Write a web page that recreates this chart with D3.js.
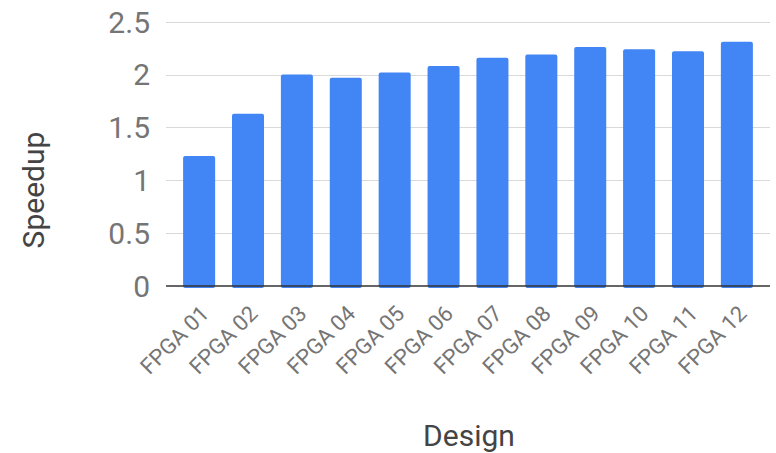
<!DOCTYPE html>
<html>
<head>
<meta charset="utf-8">
<script src="https://cdn.jsdelivr.net/npm/d3@7"></script>
<style>
  html, body { margin: 0; padding: 0; background: #fff; }
  svg { display: block; font-family: Roboto, "Noto Sans", sans-serif; }
</style>
</head>
<body>
<svg id="chart" width="776" height="453"></svg>
<script>
// Speedup per FPGA design
const designs = ["FPGA 01", "FPGA 02", "FPGA 03", "FPGA 04", "FPGA 05", "FPGA 06",
                 "FPGA 07", "FPGA 08", "FPGA 09", "FPGA 10", "FPGA 11", "FPGA 12"];
const speedups = [1.23, 1.63, 2.0, 1.97, 2.02, 2.08, 2.16, 2.19, 2.26, 2.24, 2.22, 2.31];
const yTicks = [0, 0.5, 1, 1.5, 2, 2.5];

const svg = d3.select("#chart");
const plot = { left: 166, right: 770, top: 21.7, bottom: 286 };

const x = d3.scaleBand()
  .domain(designs)
  .range([plot.left, plot.right])
  .paddingInner(0.345)
  .paddingOuter(0.35);

const y = d3.scaleLinear()
  .domain([0, 2.5])
  .range([plot.bottom, plot.top]);

// horizontal gridlines
svg.append("g")
  .selectAll("line")
  .data(yTicks.filter(d => d > 0))
  .join("line")
  .attr("x1", plot.left).attr("x2", plot.right)
  .attr("y1", d => Math.round(y(d)) + 0.5).attr("y2", d => Math.round(y(d)) + 0.5)
  .attr("stroke", "#d9d9d9").attr("stroke-width", 1);

// y tick labels
svg.append("g")
  .selectAll("text")
  .data(yTicks)
  .join("text")
  .attr("x", 150)
  .attr("y", d => y(d))
  .attr("dy", "0.36em")
  .attr("text-anchor", "end")
  .attr("font-size", 30)
  .attr("fill", "#757575")
  .text(d => d);

// bars
svg.append("g")
  .selectAll("rect")
  .data(speedups)
  .join("rect")
  .attr("x", (d, i) => x(designs[i]))
  .attr("y", d => y(d))
  .attr("width", x.bandwidth())
  .attr("height", d => y(0) - y(d) + 2)
  .attr("rx", 2)
  .attr("fill", "#4285f4");

// baseline
svg.append("line")
  .attr("x1", plot.left).attr("x2", plot.right)
  .attr("y1", y(0)).attr("y2", y(0))
  .attr("stroke", "#333").attr("stroke-width", 1.3);

// x tick labels, rotated
svg.append("g")
  .selectAll("text")
  .data(designs)
  .join("text")
  .attr("transform", d => `translate(${x(d) + x.bandwidth() / 2 + 11},${plot.bottom + 29}) rotate(-45)`)
  .attr("text-anchor", "end")
  .attr("font-size", 22)
  .attr("fill", "#757575")
  .text(d => d);

// axis titles
svg.append("text")
  .attr("x", 469).attr("y", 446)
  .attr("text-anchor", "middle")
  .attr("font-size", 30)
  .attr("fill", "#444")
  .text("Design");

svg.append("text")
  .attr("transform", "translate(44,190) rotate(-90)")
  .attr("text-anchor", "middle")
  .attr("font-size", 30)
  .attr("fill", "#444")
  .text("Speedup");
</script>
</body>
</html>
